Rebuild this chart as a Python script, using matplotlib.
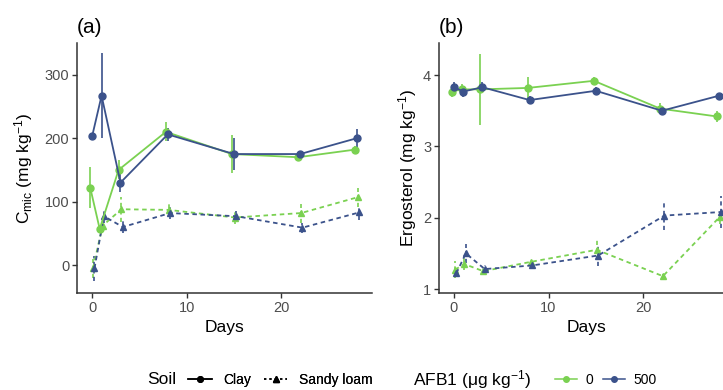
import numpy as np
import matplotlib.pyplot as plt
from matplotlib.lines import Line2D

plt.rcParams['font.family'] = ['Liberation Sans', 'DejaVu Sans']
plt.rcParams['mathtext.default'] = 'regular'

days = [0, 1, 3, 8, 15, 22, 28]

# (a) microbial carbon, mg/kg
cmic_clay_0 = [122, 57, 150, 210, 175, 170, 182]
cmic_clay_0_err = [32, 5, 15, 15, 30, 5, 5]
cmic_clay_500 = [203, 267, 130, 206, 175, 175, 200]
cmic_clay_500_err = [5, 67, 15, 10, 25, 5, 15]
cmic_sandy_0 = [-5, 62, 88, 87, 75, 82, 107]
cmic_sandy_0_err = [15, 10, 20, 10, 10, 15, 15]
cmic_sandy_500 = [-5, 77, 60, 82, 77, 59, 83]
cmic_sandy_500_err = [20, 10, 10, 10, 8, 8, 12]

# (b) ergosterol, mg/kg
erg_clay_0 = [3.77, 3.80, 3.80, 3.82, 3.92, 3.53, 3.42]
erg_clay_0_err = [0.08, 0.08, 0.50, 0.15, 0.05, 0.08, 0.08]
erg_clay_500 = [3.83, 3.77, 3.83, 3.65, 3.78, 3.50, 3.71]
erg_clay_500_err = [0.08, 0.08, 0.08, 0.05, 0.05, 0.05, 0.03]
erg_sandy_0 = [1.27, 1.35, 1.25, 1.38, 1.55, 1.18, 2.01]
erg_sandy_0_err = [0.12, 0.08, 0.04, 0.05, 0.15, 0.03, 0.10]
erg_sandy_500 = [1.22, 1.50, 1.28, 1.33, 1.47, 2.03, 2.08]
erg_sandy_500_err = [0.05, 0.13, 0.05, 0.04, 0.15, 0.20, 0.22]

GREEN = '#7AD151'
BLUE = '#3B528B'
TICK = '#4D4D4D'
DASH = (2.5, 2)


def draw_series(ax, y, err, color, dashed, marker, shift):
    x = np.array(days) + shift
    cont = ax.errorbar(x, y, yerr=err, color=color, lw=1.3,
                       marker=marker, ms=5, elinewidth=1.2, capsize=0)
    if dashed:
        cont[0].set_dashes(DASH)
        cont[2][0].set_linestyle((0, DASH))


def style_axis(ax, title, ylabel, ylim, yticks, labelpad):
    ax.set_xlim(-1.6, 29.6)
    ax.set_ylim(*ylim)
    ax.set_xticks([0, 10, 20])
    ax.set_yticks(yticks)
    for s in ['top', 'right']:
        ax.spines[s].set_visible(False)
    for s in ['left', 'bottom']:
        ax.spines[s].set_color('#333333')
        ax.spines[s].set_linewidth(1.1)
    ax.tick_params(colors='#333333', labelcolor=TICK, labelsize=10.5,
                   length=3.5, width=1, pad=2)
    ax.set_title(title, loc='left', fontsize=15, pad=7)
    ax.set_ylabel(ylabel, fontsize=12.5, labelpad=labelpad)
    ax.set_xlabel('Days', fontsize=12.5, labelpad=4)


fig = plt.figure(figsize=(7.23, 3.9), dpi=100)
ax1 = fig.add_axes([0.1065, 0.2487, 0.408, 0.641])
ax2 = fig.add_axes([0.607, 0.2487, 0.408, 0.641])

draw_series(ax1, cmic_sandy_0, cmic_sandy_0_err, GREEN, True, '^', 0.1)
draw_series(ax1, cmic_sandy_500, cmic_sandy_500_err, BLUE, True, '^', 0.25)
draw_series(ax1, cmic_clay_0, cmic_clay_0_err, GREEN, False, 'o', -0.2)
draw_series(ax1, cmic_clay_500, cmic_clay_500_err, BLUE, False, 'o', 0.0)
style_axis(ax1, '(a)', r'C$_{mic}$ (mg kg$^{-1}$)', (-44, 350), [0, 100, 200, 300], 7)

draw_series(ax2, erg_sandy_0, erg_sandy_0_err, GREEN, True, '^', 0.1)
draw_series(ax2, erg_sandy_500, erg_sandy_500_err, BLUE, True, '^', 0.25)
draw_series(ax2, erg_clay_0, erg_clay_0_err, GREEN, False, 'o', -0.2)
draw_series(ax2, erg_clay_500, erg_clay_500_err, BLUE, False, 'o', 0.0)
style_axis(ax2, '(b)', r'Ergosterol (mg kg$^{-1}$)', (0.944, 4.45), [1, 2, 3, 4], 3)

# bottom legends
ly = 0.026
fig.text(147 / 723, ly, 'Soil', fontsize=12.5, va='center')
soil_handles = [
    Line2D([], [], color='black', ls='-', marker='o', ms=4, lw=1.1),
    Line2D([], [], color='black', ls=(0, (1.5, 2)), marker='^', ms=4, lw=1.1),
]
leg1 = fig.legend(soil_handles, ['Clay', 'Sandy loam'], ncol=2, frameon=False,
                  loc='center left', bbox_to_anchor=(188 / 723, ly), fontsize=10,
                  handlelength=1.7, handletextpad=0.85, columnspacing=0.9,
                  borderpad=0, borderaxespad=0)

fig.text(413 / 723, ly, 'AFB1 (μg kg$^{-1}$)', fontsize=12.5, va='center')
afb_handles = [
    Line2D([], [], color=GREEN, ls='-', marker='o', ms=4, lw=1.1),
    Line2D([], [], color=BLUE, ls='-', marker='o', ms=4, lw=1.1),
]
fig.legend(afb_handles, ['0', '500'], ncol=2, frameon=False,
           loc='center left', bbox_to_anchor=(555 / 723, ly), fontsize=10,
           handlelength=1.6, handletextpad=0.6, columnspacing=0.7,
           borderpad=0, borderaxespad=0)
fig.add_artist(leg1)

fig.savefig('out.png', dpi=100)
